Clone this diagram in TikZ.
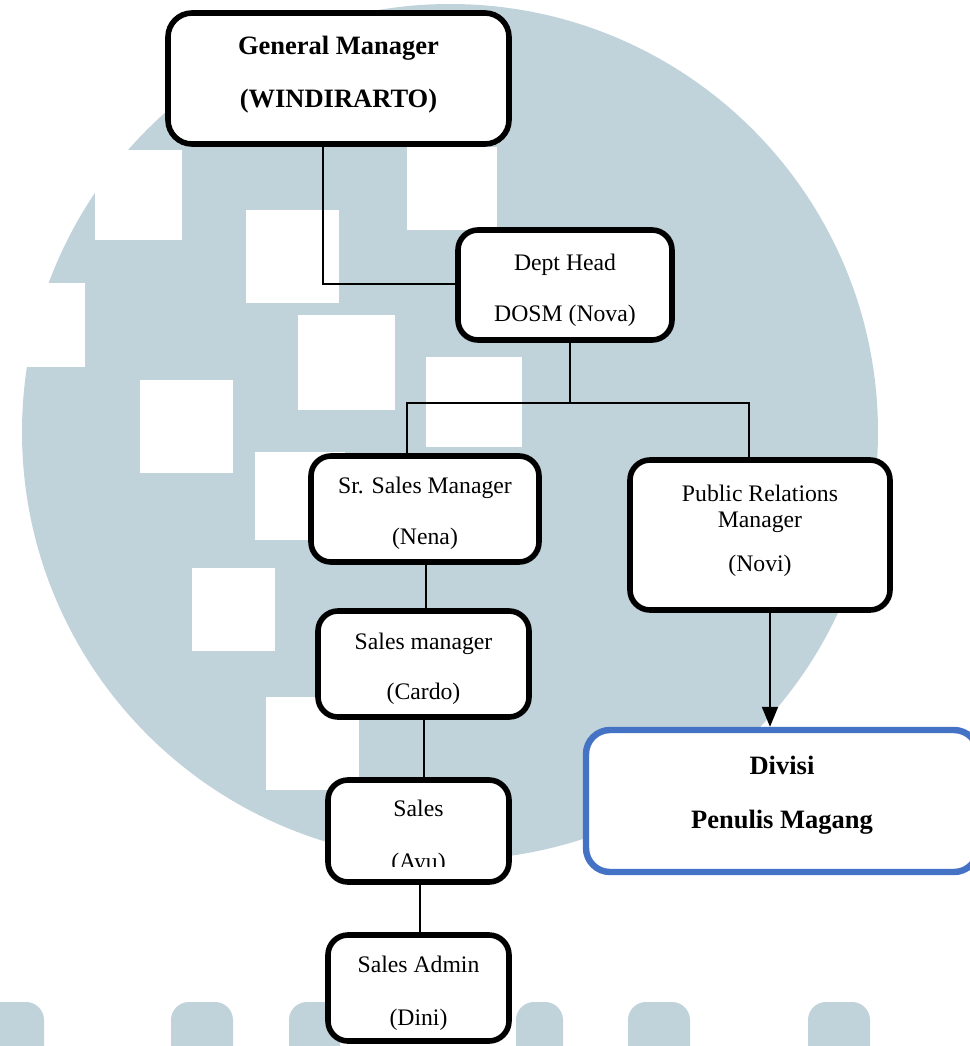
\documentclass[tikz,border=0pt]{standalone}
\usepackage{fontspec}
\setmainfont{Liberation Serif}
\usetikzlibrary{arrows.meta}
\definecolor{wm}{RGB}{193,211,218}
\definecolor{dvblue}{RGB}{68,114,196}
\begin{document}
\begin{tikzpicture}[x=0.5pt,y=-0.5pt,
  box/.style={draw=black, line width=2.8pt, rounded corners=10pt, fill=white, inner sep=0pt},
  bluebox/.style={draw=dvblue, line width=3.2pt, rounded corners=12pt, fill=white, inner sep=0pt},
  conn/.style={draw=black, line width=1pt},
  lbl/.style={inner sep=0pt, anchor=base, font=\fontsize{11.85pt}{14pt}\selectfont},
  blbl/.style={inner sep=0pt, anchor=base, font=\fontsize{13.25pt}{16pt}\selectfont\bfseries},
  wmsq/.style={fill=white},
  wmblob/.style={fill=wm, rounded corners=9pt}
]
\useasboundingbox (0,0) rectangle (970,1046);
\clip (0,0) rectangle (970,1046);
% ---- watermark ----
\fill[wm] (450,432) circle[radius=214pt];
\fill[wmsq] (246,210) rectangle (339,303);
\fill[wmsq] (407,147) rectangle (497,230);
\fill[wmsq] (95,150) rectangle (182,240);
\fill[wmsq] (0,283) rectangle (85,367);
\fill[wmsq] (140,380) rectangle (233,473);
\fill[wmsq] (298,315) rectangle (395,410);
\fill[wmsq] (426,357) rectangle (522,447);
\fill[wmsq] (255,452) rectangle (345,540);
\fill[wmsq] (192,568) rectangle (275,651);
\fill[wmsq] (266,697) rectangle (359,790);
\fill[wmblob] (-20,1002) rectangle (44,1080);
\fill[wmblob] (171,1002) rectangle (233,1080);
\fill[wmblob] (289,1002) rectangle (340,1080);
\fill[wmblob] (516,1002) rectangle (563,1080);
\fill[wmblob] (628,1002) rectangle (690,1080);
\fill[wmblob] (808,1002) rectangle (870,1080);
% ---- boxes ----
\node[box, rounded corners=12pt, minimum width=170.5pt, minimum height=65.5pt] (gm) at (338.5,78.5) {};
\node[box, minimum width=107pt, minimum height=55pt] (dh) at (565,285) {};
\node[box, minimum width=114pt, minimum height=53pt] (ss) at (425,509) {};
\node[box, minimum width=105.5pt, minimum height=53pt] (sm) at (423.5,664) {};
\node[box, minimum width=90.5pt, minimum height=51pt] (sa) at (418.5,831) {};
\node[box, minimum width=90.5pt, minimum height=53pt] (ad) at (418.5,988) {};
\node[box, minimum width=130pt, minimum height=75pt] (pr) at (760,535) {};
\node[bluebox, minimum width=196pt, minimum height=71pt] (dv) at (782,801) {};
% ---- connectors ----
\coordinate (k1) at (323,284);
\coordinate (k2) at (570,403);
\coordinate (k3) at (407,403);
\coordinate (k4) at (749,403);
\coordinate (k5) at (426,0);
\coordinate (k6) at (424,0);
\coordinate (k7) at (420,0);
\coordinate (k8) at (770,0);
\draw[conn] (gm.south -| k1) -- (k1) -- (dh.west |- k1);
\draw[conn] (dh.south -| k2) -- (k2);
\draw[conn] (ss.north -| k3) -- (k3) -- (k4) -- (pr.north -| k4);
\draw[conn] (ss.south -| k5) -- (sm.north -| k5);
\draw[conn] (sm.south -| k6) -- (sa.north -| k6);
\draw[conn] (sa.south -| k7) -- (ad.north -| k7);
\draw[conn, -{Triangle[length=10pt,width=8pt]}] (pr.south -| k8) -- (dv.north -| k8);
% ---- texts ----
\node[blbl] (gm1) at (338.5,54.3) {General Manager};
\node[blbl] (gm2) at (338.5,107.7) {(WINDIRARTO)};
\node[lbl] (dh1) at (565,270) {Dept Head};
\node[lbl] (dh2) at (565,321) {DOSM (Nova)};
\node[lbl] (ss1) at (425,493.3) {Sr. Sales Manager};
\node[lbl] (ss2) at (425,544) {(Nena)};
\node[lbl] (sm1) at (423.5,649.3) {Sales manager};
\node[lbl] (sm2) at (423.5,699.3) {(Cardo)};
\node[lbl] (sa1) at (418.5,816.7) {Sales};
\begin{scope}
\clip (330,782) rectangle (507,866.5);
\node[lbl] (sa2) at (418.5,869.5) {(Ayu)};
\end{scope}
\node[lbl] (ad1) at (418.5,972.3) {Sales Admin};
\node[lbl] (ad2) at (418.5,1025) {(Dini)};
\node[lbl] (pr1) at (760,501) {Public Relations};
\node[lbl] (pr2) at (760,527.3) {Manager};
\node[lbl] (pr3) at (760,571.7) {(Novi)};
\node[blbl] (dv1) at (782,774) {Divisi};
\node[blbl] (dv2) at (782,828.3) {Penulis Magang};
\end{tikzpicture}
\end{document}
